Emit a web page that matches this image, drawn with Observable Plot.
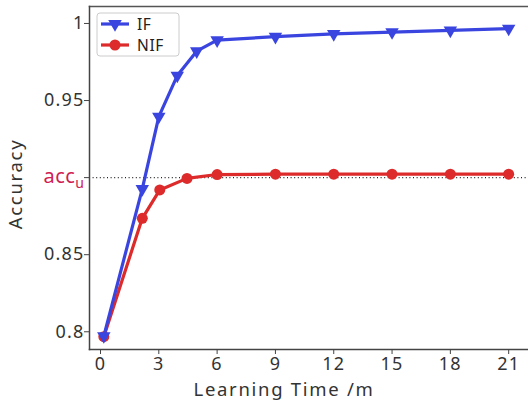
<!DOCTYPE html>
<html><head><meta charset="utf-8">
<script src="https://cdn.jsdelivr.net/npm/d3@7"></script>
<script src="https://cdn.jsdelivr.net/npm/@observablehq/plot@0.6"></script>
<style>
html,body{margin:0;padding:0;background:#fff;}
#chart svg{font-family:"Noto Sans",sans-serif;}
</style>
</head><body><div id="chart"></div>
<script>
const ifTime  = [0.17, 2.15, 3.0, 3.95, 4.95, 6.0, 9, 12, 15, 18, 21];
const ifAcc   = [0.7972, 0.8927, 0.9396, 0.9662, 0.9820, 0.9892, 0.9914, 0.9932, 0.9944, 0.9955, 0.9967];
const nifTime = [0.17, 2.15, 3.05, 4.45, 6.0, 9, 12, 15, 18, 21];
const nifAcc  = [0.7968, 0.8736, 0.8920, 0.8995, 0.9020, 0.9022, 0.9022, 0.9022, 0.9022, 0.9022];
const xTicks = [0, 3, 6, 9, 12, 15, 18, 21];
const yTicks = [0.8, 0.85, 0.9, 0.95, 1];
const yTickLabels = ["0.8", "0.85", "acc_u", "0.95", "1"];
const accU = 0.9;
const seriesNames = ["IF", "NIF"];
const seriesColors = ["#3a45e0", "#dd2a2a"];
const xLabel = "Learning Time /m";
const yLabel = "Accuracy";

const ifData = ifTime.map((t, i) => ({t, a: ifAcc[i]}));
const nifData = nifTime.map((t, i) => ({t, a: nifAcc[i]}));

const plot = Plot.plot({
  width: 528, height: 404,
  marginLeft: 89, marginTop: 6, marginBottom: 55, marginRight: 0,
  style: {fontSize: "18px", color: "#333", fontFamily: "Noto Sans"},
  x: {domain: [-0.566, 22.02]},
  y: {domain: [0.7885, 1.011]},
  marks: [
    Plot.ruleY([accU], {stroke: "#222", strokeDasharray: "1,2.6", strokeWidth: 1.1}),
    Plot.frame({anchor: "top", stroke: "#555", strokeWidth: 1.5}),
    Plot.frame({anchor: "left", stroke: "#444", strokeWidth: 1.5}),
    Plot.frame({anchor: "bottom", stroke: "#444", strokeWidth: 1.5}),
    Plot.axisX({ticks: xTicks, tickFormat: d => String(d), tickSize: 5, tickPadding: 3, label: null, stroke: "#444", fontSize: 18}),
    Plot.axisY({ticks: yTicks, tickFormat: (d) => yTickLabels[yTicks.indexOf(d)], tickSize: 5, tickPadding: 0, label: null, stroke: "#444", fontSize: 18}),
    Plot.line(nifData, {x: "t", y: "a", stroke: seriesColors[1], strokeWidth: 3.2}),
    Plot.dot(nifData, {x: "t", y: "a", fill: seriesColors[1], r: 5.5, symbol: "circle"}),
    Plot.line(ifData, {x: "t", y: "a", stroke: seriesColors[0], strokeWidth: 3.2}),
    Plot.dot(ifData, {x: "t", y: "a", fill: seriesColors[0], r: 5, symbol: "triangle", rotate: 180}),
    Plot.text([xLabel], {frameAnchor: "bottom", textAnchor: "middle", dx: -25, dy: 41, lineAnchor: "middle", fontSize: 18.5, fill: "#333", text: d => d}),
    Plot.text([yLabel], {frameAnchor: "left", textAnchor: "middle", dx: -73, dy: 6, rotate: -90, lineAnchor: "middle", fontSize: 18.5, fill: "#333", text: d => d})
  ]
});
document.getElementById("chart").appendChild(plot);

const svg = d3.select(plot);
svg.selectAll("text").filter(function(){ return this.textContent === xLabel || this.textContent === yLabel; })
  .style("letter-spacing", "1.7px");
svg.selectAll("g[aria-label='x-axis tick label'] text, g[aria-label='y-axis tick label'] text")
  .style("letter-spacing", "1.2px");
svg.selectAll("text").filter(function(){ return this.textContent === "acc_u"; }).each(function(){
  const t = d3.select(this);
  t.text(null).attr("fill", "#d0204f").style("fill", "#d0204f").style("letter-spacing", "0.5px");
  t.append("tspan").text("acc").attr("font-size", "20px");
  t.append("tspan").text("u").attr("font-size", "14px").attr("dy", "0.3em");
});

// legend
const lg = svg.append("g").attr("font-family", "Noto Sans").attr("font-size", 15.5).attr("fill", "#222").attr("text-anchor", "start");
lg.append("rect").attr("x", 97).attr("y", 13).attr("width", 82).attr("height", 43).attr("rx", 3)
  .attr("fill", "white").attr("fill-opacity", 0.85).attr("stroke", "#ccc");
const rows = [{name: seriesNames[0], color: seriesColors[0], sym: d3.symbolTriangle, rot: 180, y: 24},
              {name: seriesNames[1], color: seriesColors[1], sym: d3.symbolCircle, rot: 0, y: 45}];
for (const r of rows) {
  lg.append("line").attr("x1", 101).attr("x2", 129).attr("y1", r.y).attr("y2", r.y)
    .attr("stroke", r.color).attr("stroke-width", 3.2);
  lg.append("path").attr("d", d3.symbol(r.sym, r.rot ? 80 : 95)())
    .attr("transform", `translate(115,${r.y}) rotate(${r.rot})`).attr("fill", r.color);
  lg.append("text").attr("x", 137).attr("y", r.y).attr("dy", "0.36em").attr("text-anchor", "start")
    .style("letter-spacing", "0.6px").text(r.name);
}
</script></body></html>
